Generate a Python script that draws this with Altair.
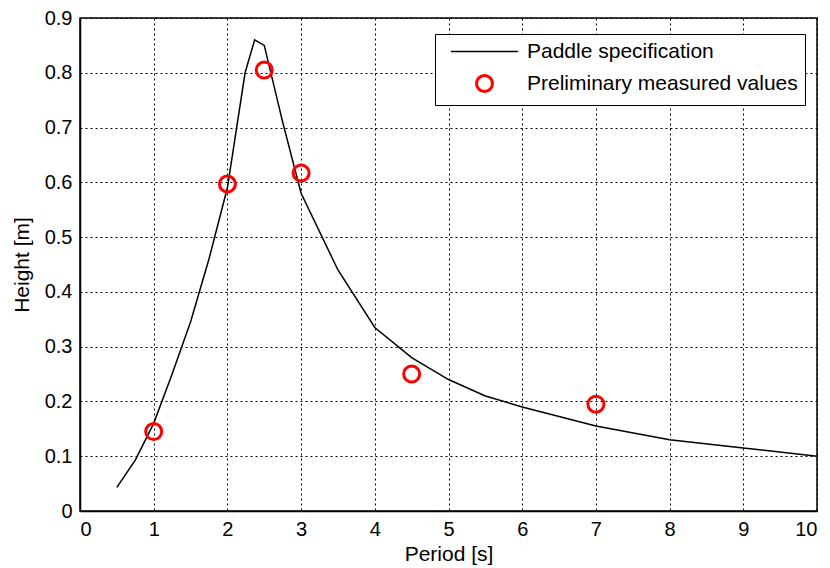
import altair as alt
import pandas as pd

# Paddle specification curve
spec_period = [0.5, 0.75, 1.0, 1.25, 1.5, 1.75, 2.0, 2.24, 2.37, 2.5, 2.75, 3.0, 3.5, 4.0, 4.5, 5.0, 5.5, 6.0, 7.0, 8.0, 9.0, 10.0]
spec_height = [0.043, 0.093, 0.16, 0.25, 0.345, 0.46, 0.59, 0.80, 0.86, 0.85, 0.71, 0.58, 0.44, 0.335, 0.28, 0.24, 0.21, 0.19, 0.155, 0.13, 0.115, 0.10]

# Preliminary measured values
meas_period = [1.0, 2.0, 2.5, 3.0, 4.5, 7.0]
meas_height = [0.145, 0.597, 0.805, 0.617, 0.25, 0.195]

series_names = ["Paddle specification", "Preliminary measured values"]

spec_df = pd.DataFrame({"period": spec_period, "height": spec_height, "series": series_names[0]})
meas_df = pd.DataFrame({"period": meas_period, "height": meas_height, "series": series_names[1]})

FONT = "Liberation Sans"
LINE_SYMBOL = "M-4.2,0H4.2"

x_enc = alt.X("period:Q", title="Period [s]",
              scale=alt.Scale(domain=[0, 10], nice=False),
              axis=alt.Axis(values=list(range(0, 11)), format="d"))
y_enc = alt.Y("height:Q", title="Height [m]",
              scale=alt.Scale(domain=[0, 0.9], nice=False),
              axis=alt.Axis(values=[round(i * 0.1, 1) for i in range(10)], format=".1~f"))

line = alt.Chart(spec_df).mark_line(color="black", strokeWidth=1.5).encode(
    x=x_enc, y=y_enc
)

sym_legend = alt.Legend(title=None, orient="none", legendX=355, legendY=16)
points = alt.Chart(meas_df).mark_point(filled=False, opacity=1, size=256).encode(
    x=x_enc, y=y_enc,
    color=alt.Color("series:N", scale=alt.Scale(domain=series_names, range=["black", "red"]), legend=sym_legend),
    shape=alt.Shape("series:N", scale=alt.Scale(domain=series_names, range=[LINE_SYMBOL, "circle"]), legend=sym_legend),
    strokeWidth=alt.StrokeWidth("series:N", scale=alt.Scale(domain=series_names, range=[1.5, 3]), legend=sym_legend),
)

chart = alt.layer(line, points).properties(
    width=737, height=493,
    autosize=alt.AutoSizeParams(type="none"),
    padding={"left": 72, "top": 10, "right": 5, "bottom": 56},
    background="white",
).configure_view(
    stroke="black", strokeWidth=1.5
).configure_axis(
    labelFont=FONT, titleFont=FONT, labelFontSize=20, titleFontSize=21,
    labelColor="black", titleColor="black", titleFontWeight="normal",
    grid=True, gridColor="black", gridDash=[2, 3], gridOpacity=1, gridWidth=1,
    domainColor="black", domainWidth=1.5, tickColor="black", tickSize=0,
    labelPadding=8,
).configure_axisX(
    titlePadding=4
).configure_axisY(
    titlePadding=12
).configure_legend(
    labelFont=FONT, labelFontSize=21, labelColor="black", labelLimit=0,
    strokeColor="black", fillColor="white", padding=7, cornerRadius=0,
    symbolOffset=32, labelOffset=32, rowPadding=7, symbolOpacity=1,
    symbolSize=256
)

chart.save("out.html", embed_options={"renderer": "svg", "actions": False})
